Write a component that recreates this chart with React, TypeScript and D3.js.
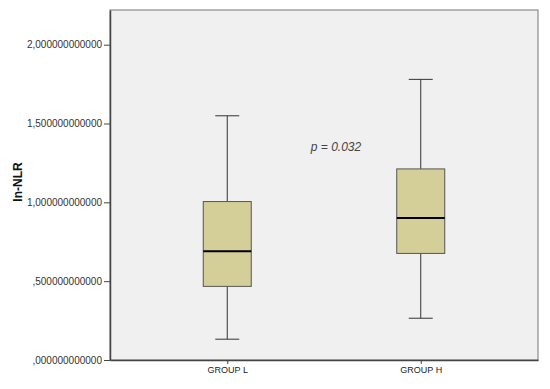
import { useEffect, useRef } from 'react';
import * as d3 from 'd3';

const groups = ['GROUP L', 'GROUP H'];
const whiskerLow = [0.132, 0.265];
const q1 = [0.467, 0.676];
const median = [0.689, 0.9];
const q3 = [1.005, 1.212];
const whiskerHigh = [1.549, 1.78];
const yTicks = [0, 0.5, 1, 1.5, 2];

const width = 550;
const height = 389;
const margin = { top: 10, right: 12, bottom: 29, left: 110 };

const App = () => {
  const ref = useRef<SVGSVGElement>(null);

  useEffect(() => {
    const svg = d3.select(ref.current);
    svg.selectAll('*').remove();

    const x0 = margin.left;
    const x1 = width - margin.right;
    const y1 = height - margin.bottom;
    const y0 = margin.top;

    const x = d3.scalePoint<string>().domain(groups).range([x0, x1]).padding(0.606);
    const y = d3.scaleLinear().domain([0, 2.22]).range([y1, y0]);

    // plot area
    svg.append('rect')
      .attr('x', x0).attr('y', y0)
      .attr('width', x1 - x0).attr('height', y1 - y0)
      .attr('fill', '#f0f0f0')
      .attr('stroke', '#777').attr('stroke-width', 1);

    // y axis
    const yAxis = svg.append('g').attr('transform', `translate(${x0},0)`)
      .call(d3.axisLeft(y).tickValues(yTicks).tickSize(6).tickSizeOuter(0).tickPadding(2)
        .tickFormat((d) => d3.format('.12f')(+d).replace('.', ',').replace(/^0,/, ',')));
    yAxis.select('.domain').attr('stroke', '#444').attr('stroke-width', 1.5);
    yAxis.selectAll('line').attr('stroke', '#444');
    yAxis.selectAll('text').attr('font-family', 'Arial, Liberation Sans, sans-serif')
      .attr('font-size', 10).attr('fill', '#333');

    // x axis
    const xAxis = svg.append('g').attr('transform', `translate(0,${y1})`)
      .call(d3.axisBottom(x).tickSize(4).tickPadding(3).tickSizeOuter(0));
    xAxis.select('.domain').attr('stroke', '#444').attr('stroke-width', 1.5);
    xAxis.selectAll('line').attr('stroke', '#444');
    xAxis.selectAll('text').attr('font-family', 'Arial, Liberation Sans, sans-serif')
      .attr('font-size', 9).attr('fill', '#222');

    const boxW = 48;
    const capW = 24;

    groups.forEach((g, i) => {
      const cx = x(g)!;
      const grp = svg.append('g');
      grp.append('line')
        .attr('x1', cx).attr('x2', cx)
        .attr('y1', y(whiskerHigh[i])).attr('y2', y(q3[i]))
        .attr('stroke', '#333');
      grp.append('line')
        .attr('x1', cx).attr('x2', cx)
        .attr('y1', y(q1[i])).attr('y2', y(whiskerLow[i]))
        .attr('stroke', '#333');
      [whiskerHigh[i], whiskerLow[i]].forEach((v) => {
        grp.append('line')
          .attr('x1', cx - capW / 2).attr('x2', cx + capW / 2)
          .attr('y1', y(v)).attr('y2', y(v))
          .attr('stroke', '#333');
      });
      grp.append('rect')
        .attr('x', cx - boxW / 2).attr('y', y(q3[i]))
        .attr('width', boxW).attr('height', y(q1[i]) - y(q3[i]))
        .attr('fill', '#d4cf98').attr('stroke', '#555');
      grp.append('line')
        .attr('x1', cx - boxW / 2).attr('x2', cx + boxW / 2)
        .attr('y1', y(median[i])).attr('y2', y(median[i]))
        .attr('stroke', '#000').attr('stroke-width', 2);
    });

    svg.append('text')
      .attr('x', 336).attr('y', 151)
      .attr('text-anchor', 'middle')
      .attr('font-family', 'Arial, Liberation Sans, sans-serif')
      .attr('font-size', 12).attr('font-style', 'italic').attr('fill', '#444')
      .text('p = 0.032');

    svg.append('text')
      .attr('transform', `translate(22,${(y0 + y1) / 2 - 3}) rotate(-90)`)
      .attr('text-anchor', 'middle')
      .attr('font-family', 'Arial, Liberation Sans, sans-serif')
      .attr('font-size', 12).attr('font-weight', 'bold').attr('fill', '#111')
      .text('ln-NLR');
  }, []);

  return (
    <svg ref={ref} width={width} height={height}
      style={{ position: 'absolute', left: 0, top: 0, background: '#fff' }} />
  );
};

export default App;
